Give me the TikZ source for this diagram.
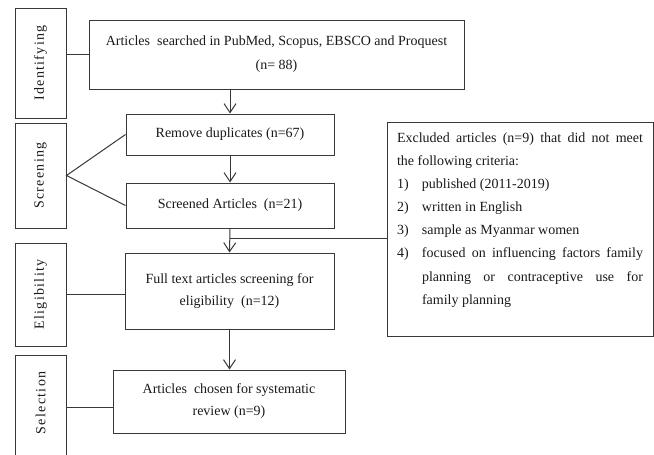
\documentclass[tikz,border=0pt]{standalone}
\usepackage{fontspec}
\setmainfont{Liberation Serif}
\newfontfamily\spacedfont[LetterSpace=9.5]{Liberation Serif}
\usetikzlibrary{arrows.meta,calc}
\begin{document}
\begin{tikzpicture}[x=1pt,y=-1pt,
  box/.style={draw=black!78, line width=1pt, inner sep=0pt, align=center, text=black!90, font=\fontsize{14}{22}\selectfont},
  exbox/.style={draw=black!78, line width=1pt, inner ysep=0pt, inner xsep=10pt, text width=246pt, align=justify, text=black!90, font=\fontsize{14}{23.1}\selectfont},
  side/.style={box, minimum width=51pt, font=\fontsize{14}{16}\spacedfont},
  link/.style={draw=black!78, line width=1pt},
  arr/.style={link, -{Straight Barb[length=9pt,width=12pt]}}]
\useasboundingbox (0,0) rectangle (654,455);

% side labels
\node[side, minimum height=110pt] (s1) at (40.5,63) {\rotatebox{90}{Identifying}};
\node[side, minimum height=105pt] (s2) at (40.5,175.5) {\rotatebox{90}{Screening}};
\node[side, minimum height=103pt] (s3) at (40.5,294.5) {\rotatebox{90}{Eligibility}};
\draw[link] (15,470) -- (15,355) -- (66,355) -- (66,470);
\node[inner sep=0pt, text=black!90, font=\fontsize{14}{16}\spacedfont] (s4) at (40.5,403) {\rotatebox{90}{Selection}};

% main boxes
\node[box, minimum width=375pt, minimum height=69pt, font=\fontsize{14}{24}\selectfont] (b1) at (276.5,54.5)
  {Articles\ \ searched in PubMed, Scopus, EBSCO and Proquest\\(n= 88)};
\node[box, minimum width=208pt, minimum height=41pt] (b2) at (230,134.5) {Remove duplicates (n=67)};
\node[box, minimum width=208pt, minimum height=45pt] (b3) at (230,205.5) {Screened Articles\ \ (n=21)};
\node[box, minimum width=209pt, minimum height=76pt] (b4) at (229.5,291)
  {Full text articles screening for\\eligibility\ \ (n=12)};
\node[box, minimum width=232pt, minimum height=63pt] (b5) at (229,401.5)
  {Articles\ \ chosen for systematic\\review (n=9)};

\node[exbox, minimum height=214pt] (ex) at (520,229) {\noindent
  Excluded articles (n=9) that did not meet\linebreak the following criteria:\par
  \noindent\makebox[25pt][l]{1)}published (2011-2019)\par
  \noindent\makebox[25pt][l]{2)}written in English\par
  \noindent\makebox[25pt][l]{3)}sample as Myanmar women\par
  {\hangindent=25pt\hangafter=1\noindent\makebox[25pt][l]{4)}focused on influencing factors family\linebreak planning or contraceptive use for\linebreak family planning\par}
  \vspace*{18pt}};

% connectors from side labels
\draw[link] (s1.east |- b1.west) -- (b1.west);
\draw[link] (b2.west) -- (s2.east) -- (b3.west);
\draw[link] (s3.east) -- (s3.east -| b4.west);
\coordinate (s4e) at (66,407);
\draw[link] (s4e) -- (s4e -| b5.west);

% flow arrows
\draw[arr] (b1.south -| b2.north) -- (b2.north);
\draw[arr] (b2.south) -- (b3.north);
\draw[arr] (b3.south) -- (b4.north);
\coordinate (j) at ($(b3.south)!0.4!(b4.north)$);
\draw[link] (j) -- (j -| ex.west);
\draw[arr] (b4.south) -- (b4.south |- b5.north);
\end{tikzpicture}
\end{document}
